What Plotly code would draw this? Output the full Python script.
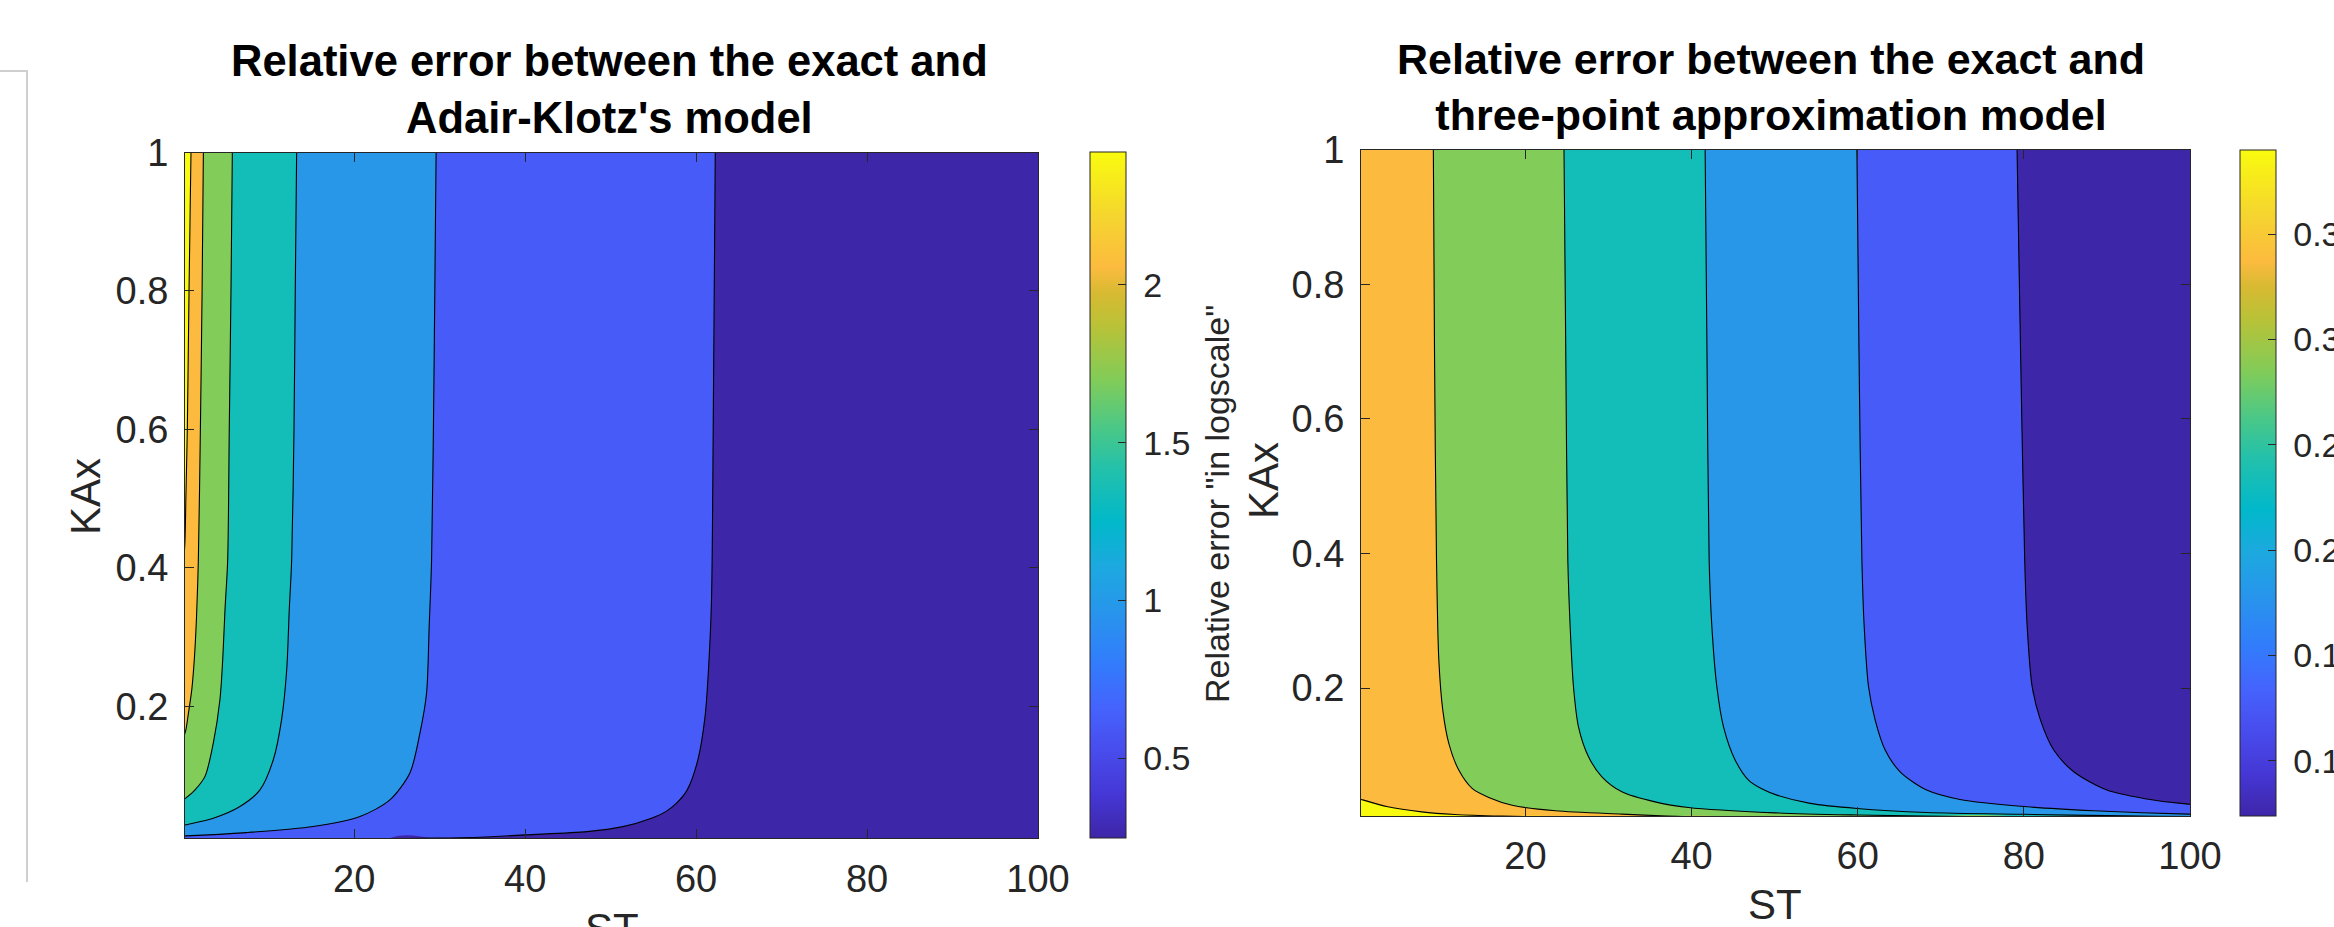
import plotly.graph_objects as go

# ---------------- data ----------------
# Contour boundaries as (ST, KAx) pairs, ordered from top edge downward.
# Left panel: Adair-Klotz's model
AK_LINE_1 = [(0.9, 1.0), (0.67, 0.8), (0.47, 0.6), (0.3, 0.5), (0.2, 0.44), (0.0, 0.40)]
AK_LINE_2 = [(2.35, 1.0), (2.2, 0.8), (2.0, 0.6), (1.76, 0.41), (1.55, 0.33), (1.3, 0.27),
             (1.0, 0.225), (0.6, 0.19), (0.28, 0.165), (0.0, 0.155)]
AK_LINE_3 = [(5.74, 1.0), (5.58, 0.8), (5.38, 0.6), (5.19, 0.41), (4.88, 0.34), (4.61, 0.267),
             (4.29, 0.21), (3.51, 0.147), (2.54, 0.099), (1.37, 0.0795), (0.28, 0.0675), (0.0, 0.065)]
AK_LINE_4 = [(13.26, 1.0), (13.1, 0.8), (12.95, 0.6), (12.68, 0.412), (12.4, 0.34), (12.1, 0.253),
             (11.5, 0.181), (10.53, 0.123), (8.97, 0.0795), (6.63, 0.0555), (3.51, 0.0386),
             (0.28, 0.029), (0.0, 0.028)]
AK_LINE_5 = [(29.58, 1.0), (29.35, 0.7), (29.05, 0.412), (28.77, 0.316), (28.46, 0.219),
             (27.68, 0.161), (26.51, 0.104), (24.17, 0.065), (20.67, 0.041), (15.2, 0.0266),
             (7.42, 0.0178), (0.28, 0.0131), (0.0, 0.013)]
AK_LINE_6 = [(62.24, 1.0), (62.0, 0.6), (61.8, 0.354), (61.47, 0.258), (61.05, 0.186),
             (60.21, 0.123), (58.96, 0.0795), (57.71, 0.0603), (56.45, 0.0481), (54.77, 0.0386),
             (51.43, 0.0264), (47.24, 0.0192), (40.05, 0.0145), (34.7, 0.0111), (29.6, 0.0098),
             (24.0, 0.0088)]

# Right panel: three-point approximation model
TP_LINE_1 = [(0.0, 0.0355), (0.23, 0.0346), (3.43, 0.0237), (7.5, 0.0162), (11.5, 0.0123),
             (17.16, 0.0098), (25.0, 0.008)]
TP_LINE_2 = [(8.91, 1.0), (9.05, 0.7), (9.29, 0.39), (9.57, 0.2416), (10.05, 0.167), (10.77, 0.118),
             (11.97, 0.0782), (13.58, 0.051), (15.58, 0.0376), (18.4, 0.026), (23.6, 0.0177),
             (31.6, 0.0128), (37.0, 0.0100), (45.0, 0.008)]
TP_LINE_3 = [(24.64, 1.0), (24.85, 0.7), (25.1, 0.39), (25.38, 0.291), (25.78, 0.202),
             (26.38, 0.1425), (27.59, 0.098), (29.2, 0.0682), (31.6, 0.046), (35.6, 0.031),
             (39.6, 0.0227), (50.06, 0.0147), (60.0, 0.0115), (68.0, 0.0100), (80.0, 0.008)]
TP_LINE_4 = [(41.63, 1.0), (41.85, 0.7), (42.11, 0.39), (42.44, 0.291), (43.04, 0.202),
             (43.84, 0.1425), (45.25, 0.093), (46.85, 0.0633), (48.5, 0.05), (50.27, 0.041),
             (54.28, 0.0287), (59.9, 0.0212), (68.3, 0.0153), (80.0, 0.0125), (92.0, 0.0102),
             (100.0, 0.0092), (110.0, 0.008)]
TP_LINE_5 = [(59.9, 1.0), (60.15, 0.7), (60.5, 0.39), (60.78, 0.291), (61.3, 0.202), (62.1, 0.1525),
             (63.3, 0.108), (65.1, 0.0757), (68.3, 0.0485), (72.3, 0.0346), (80.4, 0.0237),
             (88.4, 0.0177), (99.8, 0.0128), (110.0, 0.011)]
TP_LINE_6 = [(79.18, 1.0), (79.6, 0.7), (80.1, 0.39), (80.4, 0.291), (81.0, 0.202), (82.0, 0.1525),
             (83.6, 0.108), (86.0, 0.0757), (90.0, 0.0485), (94.4, 0.0361), (99.8, 0.0276),
             (110.0, 0.025)]

AK_LINES = [AK_LINE_1, AK_LINE_2, AK_LINE_3, AK_LINE_4, AK_LINE_5, AK_LINE_6]
TP_LINES = [TP_LINE_1, TP_LINE_2, TP_LINE_3, TP_LINE_4, TP_LINE_5, TP_LINE_6]

ST_RANGE = [0.2, 100]
KAX_RANGE = [0.01, 1]
X_TICKS = [20, 40, 60, 80, 100]
Y_TICKS = [0.2, 0.4, 0.6, 0.8, 1]

AK_CBAR_RANGE = [0.247, 2.42]
AK_CBAR_TICKS = [0.5, 1, 1.5, 2]
TP_CBAR_RANGE = [0.0739, 0.390]
TP_CBAR_TICKS = [0.1, 0.15, 0.2, 0.25, 0.3, 0.35]

TITLE_LEFT = "Relative error between the exact and<br>Adair-Klotz's model"
TITLE_RIGHT = "Relative error between the exact and<br>three-point approximation model"
CBAR_LABEL = 'Relative error "in logscale"'

# ---------------- style ----------------
W, H = 2334, 927
BAND_COLORS = ["#F9FB0E", "#FCBB3E", "#82CC59", "#13BEB8", "#2897E8", "#475BF9", "#3E26A8"]
PARULA = [
    [0.000, "rgb(62,38,168)"], [0.063, "rgb(69,55,213)"], [0.127, "rgb(72,76,236)"],
    [0.190, "rgb(69,99,253)"], [0.254, "rgb(50,124,252)"], [0.333, "rgb(39,150,235)"],
    [0.397, "rgb(28,169,223)"], [0.460, "rgb(1,184,202)"], [0.540, "rgb(36,193,170)"],
    [0.600, "rgb(76,200,134)"], [0.667, "rgb(129,204,89)"], [0.746, "rgb(185,194,55)"],
    [0.794, "rgb(215,186,50)"], [0.833, "rgb(252,187,62)"], [0.905, "rgb(245,213,47)"],
    [1.000, "rgb(249,251,14)"],
]
FONT = "Liberation Sans, Arial, Helvetica, sans-serif"
TXT = "#262626"


def fx(p):
    return p / W


def fy(p):
    return 1 - p / H


LEFT_X = [fx(185), fx(1038)]
LEFT_Y = [fy(838), fy(152.5)]
RIGHT_X = [fx(1361), fx(2190)]
RIGHT_Y = [fy(816), fy(149.6)]

fig = go.Figure()


def add_panel(lines, xa, ya, corner_x):
    # filled bands (painter's order): region beyond each contour line
    for i, line in enumerate(lines):
        xs = [p[0] for p in line]
        ys = [p[1] for p in line]
        px = [xs[0]] + xs + [corner_x, 500, 500]
        py = [2] + ys + [-1, -1, 2]
        fig.add_trace(go.Scatter(x=px, y=py, mode="lines", fill="toself",
                                 fillcolor=BAND_COLORS[i + 1],
                                 line=dict(width=0, shape="spline", smoothing=0.8),
                                 xaxis=xa, yaxis=ya, showlegend=False, hoverinfo="skip"))
    # contour lines on top
    for line in lines:
        fig.add_trace(go.Scatter(x=[p[0] for p in line], y=[p[1] for p in line], mode="lines",
                                 line=dict(color="black", width=1.1, shape="spline", smoothing=0.8),
                                 xaxis=xa, yaxis=ya, showlegend=False, hoverinfo="skip"))


add_panel(AK_LINES, "x", "y", -50)
add_panel(TP_LINES, "x2", "y2", 500)


def add_cbar(rng, ticks, xa, ya, x0, ytop, ybot):
    fig.add_trace(go.Scatter(
        x=[None], y=[None], mode="markers", xaxis=xa, yaxis=ya, showlegend=False,
        marker=dict(color=[rng[0]], cmin=rng[0], cmax=rng[1], colorscale=PARULA, showscale=True,
                    colorbar=dict(
                        x=fx(x0), xanchor="left", y=fy((ytop + ybot) / 2), yanchor="middle",
                        len=ybot - ytop, lenmode="pixels", thickness=36, thicknessmode="pixels",
                        xpad=0, ypad=0, outlinewidth=1, outlinecolor=TXT,
                        ticks="inside", ticklen=8, tickwidth=1, tickcolor=TXT,
                        tickvals=ticks, ticktext=[("\u00a0%g" % t) for t in ticks],
                        tickfont=dict(family=FONT, size=34, color=TXT),
                    ))))


add_cbar(AK_CBAR_RANGE, AK_CBAR_TICKS, "x", "y", 1090, 152.5, 838)
add_cbar(TP_CBAR_RANGE, TP_CBAR_TICKS, "x2", "y2", 2240, 149.6, 816)

axis_common = dict(showline=True, linecolor=TXT, linewidth=1, mirror="allticks",
                   ticks="inside", ticklen=9, tickwidth=1, tickcolor=TXT,
                   showgrid=False, zeroline=False,
                   tickfont=dict(family=FONT, size=38, color=TXT))

fig.update_layout(
    width=W, height=H, margin=dict(l=0, r=0, t=0, b=0, pad=0, autoexpand=False),
    paper_bgcolor="white", plot_bgcolor=BAND_COLORS[0],
    xaxis=dict(domain=LEFT_X, range=ST_RANGE, tickvals=X_TICKS, anchor="y",
               ticklabelstandoff=7, **axis_common),
    yaxis=dict(domain=LEFT_Y, range=KAX_RANGE, tickvals=Y_TICKS, anchor="x",
               ticklabelstandoff=8, **axis_common),
    xaxis2=dict(domain=RIGHT_X, range=ST_RANGE, tickvals=X_TICKS, anchor="y2",
                ticklabelstandoff=6, **axis_common),
    yaxis2=dict(domain=RIGHT_Y, range=KAX_RANGE, tickvals=Y_TICKS, anchor="x2",
                ticklabelstandoff=8, **axis_common),
)

ann = []
title_font = dict(family=FONT, size=43.5, color="black")
ann.append(dict(text="<b>" + TITLE_LEFT.replace("<br>", "</b><br><b>") + "</b>", x=fx(609), y=fy(89),
                xref="paper", yref="paper", showarrow=False, xanchor="center", yanchor="middle",
                font=title_font))
ann.append(dict(text="<b>" + TITLE_RIGHT.replace("<br>", "</b><br><b>") + "</b>", x=fx(1771), y=fy(87),
                xref="paper", yref="paper", showarrow=False, xanchor="center", yanchor="middle",
                font=dict(family=FONT, size=43, color="black")))
lab_font = dict(family=FONT, size=42, color=TXT)
ann.append(dict(text="KAx", x=fx(85), y=fy(496), textangle=-90, xref="paper", yref="paper",
                showarrow=False, xanchor="center", yanchor="middle", font=lab_font))
ann.append(dict(text="KAx", x=fx(1263), y=fy(481), textangle=-90, xref="paper", yref="paper",
                showarrow=False, xanchor="center", yanchor="middle", font=lab_font))
ann.append(dict(text="ST", x=fx(612), y=fy(928), xref="paper", yref="paper",
                showarrow=False, xanchor="center", yanchor="middle", font=lab_font))
ann.append(dict(text="ST", x=fx(1775), y=fy(904), xref="paper", yref="paper",
                showarrow=False, xanchor="center", yanchor="middle", font=lab_font))
ann.append(dict(text=CBAR_LABEL, x=fx(1217), y=fy(504), textangle=-90, xref="paper", yref="paper",
                showarrow=False, xanchor="center", yanchor="middle",
                font=dict(family=FONT, size=34, color=TXT)))
fig.update_layout(annotations=ann)

fig.add_shape(type="path",
              path="M %f %f L %f %f L %f %f" % (fx(0), fy(71), fx(27), fy(71), fx(27), fy(882)),
              xref="paper", yref="paper", line=dict(color="#cfcfcf", width=2))

fig.write_html("out.html")
